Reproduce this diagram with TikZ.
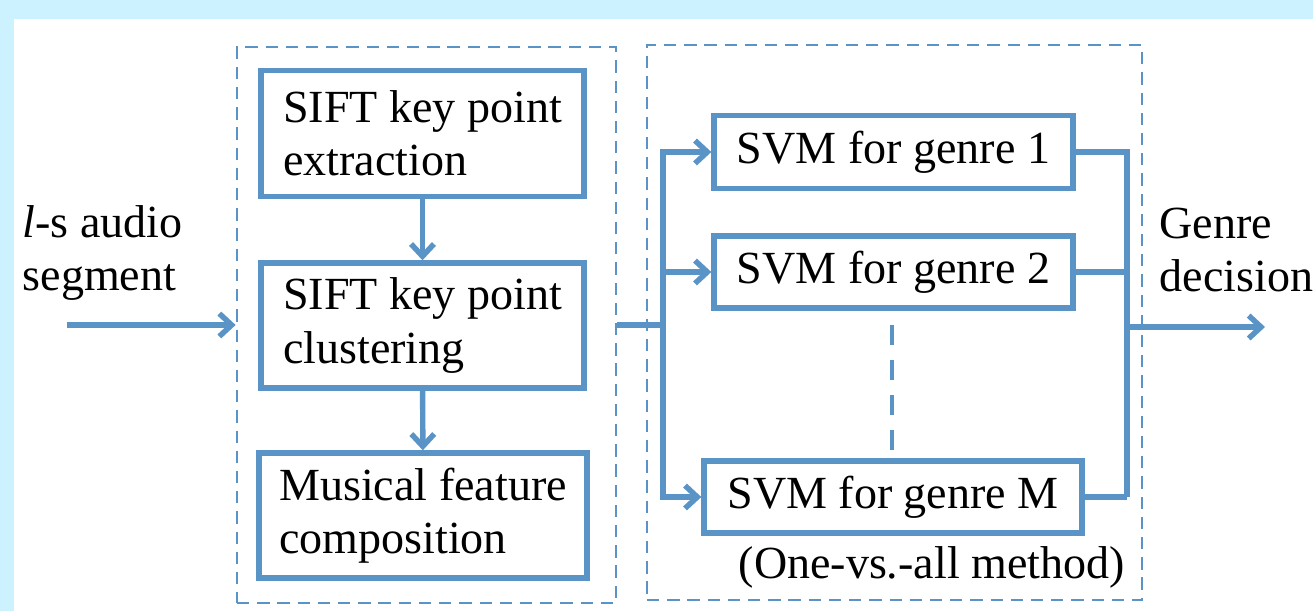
\documentclass[tikz,border=0pt]{standalone}
\usepackage{fontspec}
\setmainfont{Liberation Serif}
\usepackage{tikz}
\usetikzlibrary{arrows.meta}

\definecolor{lineblue}{RGB}{90,147,198}
\definecolor{frameblue}{RGB}{204,242,255}

\begin{document}
\begin{tikzpicture}[x = 0.02cm, y = -0.02cm,
                      line width = 3.1pt,
                      >={Straight Barb[length=7pt, width=13pt]},
                      block/.style = {rectangle, draw = lineblue, line width = 3.1pt, fill = white, align = left,
                                      font = \fontsize{26.2}{30.2}\selectfont},
                      group/.style = {rectangle, draw = lineblue, line width = 1.6pt, dash pattern = on 7pt off 4.5pt},
                      tag/.style = {inner sep = 0pt, align = left, font = \fontsize{26.2}{30.2}\selectfont},
                      wire/.style = {draw = lineblue, line width = 3.1pt}]
    \useasboundingbox (0, 0) rectangle (1313, 611);
    \fill [frameblue] (0, 0) rectangle (1313, 611);
    \fill [white] (14, 19) rectangle (1313, 611);

    % feature extraction part
    \node [group, minimum width = 7.58cm, minimum height = 11.12cm] (featgroup) at (426.5, 325){};
    \node [block, minimum width = 6.46cm, minimum height = 2.52cm] (feat1) at (422.5, 133.5) {SIFT key point\\extraction};
    \node [block, minimum width = 6.46cm, minimum height = 2.5cm] (feat2) at (422.5, 325.5) {SIFT key point\\clustering};
    \node [block, minimum width = 6.56cm, minimum height = 2.5cm] (feat3) at (423, 515.5) {Musical feature\\composition};
    \draw [wire, ->] (feat1) -- (feat2);
    \draw [wire, ->] (feat2) -- (feat3);

    % classifiers
    \node [group, minimum width = 9.9cm, minimum height = 11.1cm] (svmgroup) at (894.5, 322.5){};
    \node [block, minimum width = 7.18cm, minimum height = 1.46cm] (svm1) at (893.5, 152) {SVM for genre 1};
    \node [block, minimum width = 7.18cm, minimum height = 1.44cm] (svm2) at (893.5, 272) {SVM for genre 2};
    \node [block, minimum width = 7.56cm, minimum height = 1.44cm] (svmM) at (893, 497) {SVM for genre M};
    \node [tag, anchor = base west] (method) at (736, 579) {(One-vs.-all method)};
    \coordinate (dotstop) at (892, 325);
    \coordinate (dotsbot) at (892, 450);
    \draw [wire, line width = 2.3pt, dash pattern = on 11.4pt off 8.5pt] (dotstop) -- (dotsbot);

    % input and output
    \node [tag, anchor = west] (input) at (20, 253) {\textit{l}-s audio\\segment};
    \node [tag, anchor = west] (output) at (1157, 250) {Genre\\decision};
    \coordinate (instart) at (67, 325);
    \coordinate (busL) at (663, 325);
    \coordinate (busR) at (1127, 497);
    \coordinate (outstart) at (1127, 327);
    \coordinate (outend) at (1265, 327);

    \draw [wire, ->] (instart) -- (featgroup.west);
    \draw [wire] (featgroup.east) -- (busL);
    \draw [wire, ->] (busL) |- (svm1.west);
    \draw [wire, ->] (busL) |- (svm2.west);
    \draw [wire, ->] (busL) |- (svmM.west);
    \draw [wire] (svm1.east) -| (busR);
    \draw [wire] (svm2.east) -- (svm2.east -| busR);
    \draw [wire] (svmM.east) -- (busR);
    \draw [wire, ->] (outstart) -- (outend);
\end{tikzpicture}
\end{document}
